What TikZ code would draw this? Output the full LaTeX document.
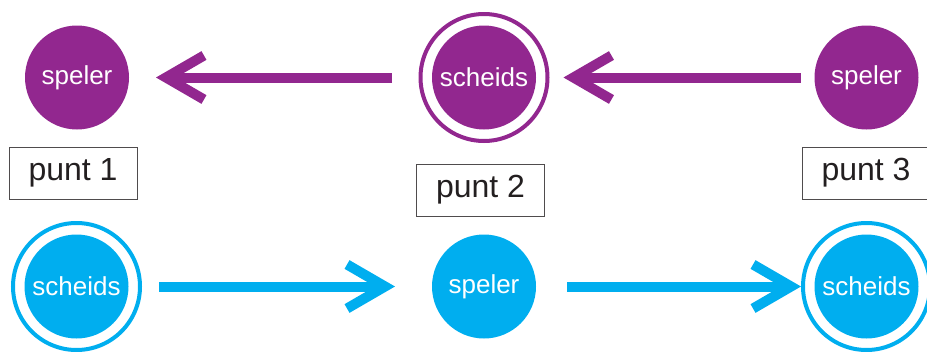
\documentclass[tikz,border=0pt]{standalone}
\usepackage{fontspec}
\setmainfont{Liberation Sans}
\usetikzlibrary{arrows.meta}
\definecolor{paars}{HTML}{92278F}
\definecolor{cyaan}{HTML}{00AEEF}
\definecolor{inkt}{HTML}{231F20}
\begin{document}
\begin{tikzpicture}[x=1pt,y=-1pt,
  spelerbox/.style={circle,fill=#1,minimum size=104pt,inner sep=0pt,outer sep=0pt,
    text=white,font=\fontsize{26}{28}\selectfont},
  scheidsbox/.style={circle,draw=#1,line width=4pt,minimum size=127pt,inner sep=0pt,
    text=white,font=\fontsize{26}{28}\selectfont,
    path picture={\fill[#1] (path picture bounding box.center) circle (52pt);}},
  puntbox/.style={draw=inkt!80,line width=0.9pt,minimum width=128pt,minimum height=52pt,
    inner sep=0pt,text=inkt,font=\fontsize{32}{34}\selectfont},
  pijl/.style={draw=#1,line width=10pt,
    -{Straight Barb[length=38pt,width=44pt,line width=10pt]}}
]
\useasboundingbox (0,0) rectangle (927,351);
% top row
\node[spelerbox=paars] (s1) at (77,77.5) {speler};
\node[scheidsbox=paars] (m1) at (484,77.5) {scheids};
\node[spelerbox=paars] (s3) at (866.5,77.5) {speler};
% bottom row
\node[scheidsbox=cyaan] (b1) at (76.5,286.5) {scheids};
\node[spelerbox=cyaan] (b2) at (484,286.5) {speler};
\node[scheidsbox=cyaan] (b3) at (866.5,286.5) {scheids};
% labels
\node[puntbox] (p1) at (73,173) {punt 1};
\node[puntbox] (p2) at (480.5,190) {punt 2};
\node[puntbox] (p3) at (866,173) {punt 3};
% arrows
\draw[pijl=paars,shorten <=26.5pt,shorten >=27pt] (m1.west) -- (s1.east);
\draw[pijl=paars,shorten <=14pt,shorten >=14pt] (s3.west) -- (m1.east);
\draw[pijl=cyaan,shorten <=17pt,shorten >=37pt] (b1.east) -- (b2.west);
\draw[pijl=cyaan,shorten <=31pt,shorten >=0pt] (b2.east) -- (b3.west);
\end{tikzpicture}
\end{document}
